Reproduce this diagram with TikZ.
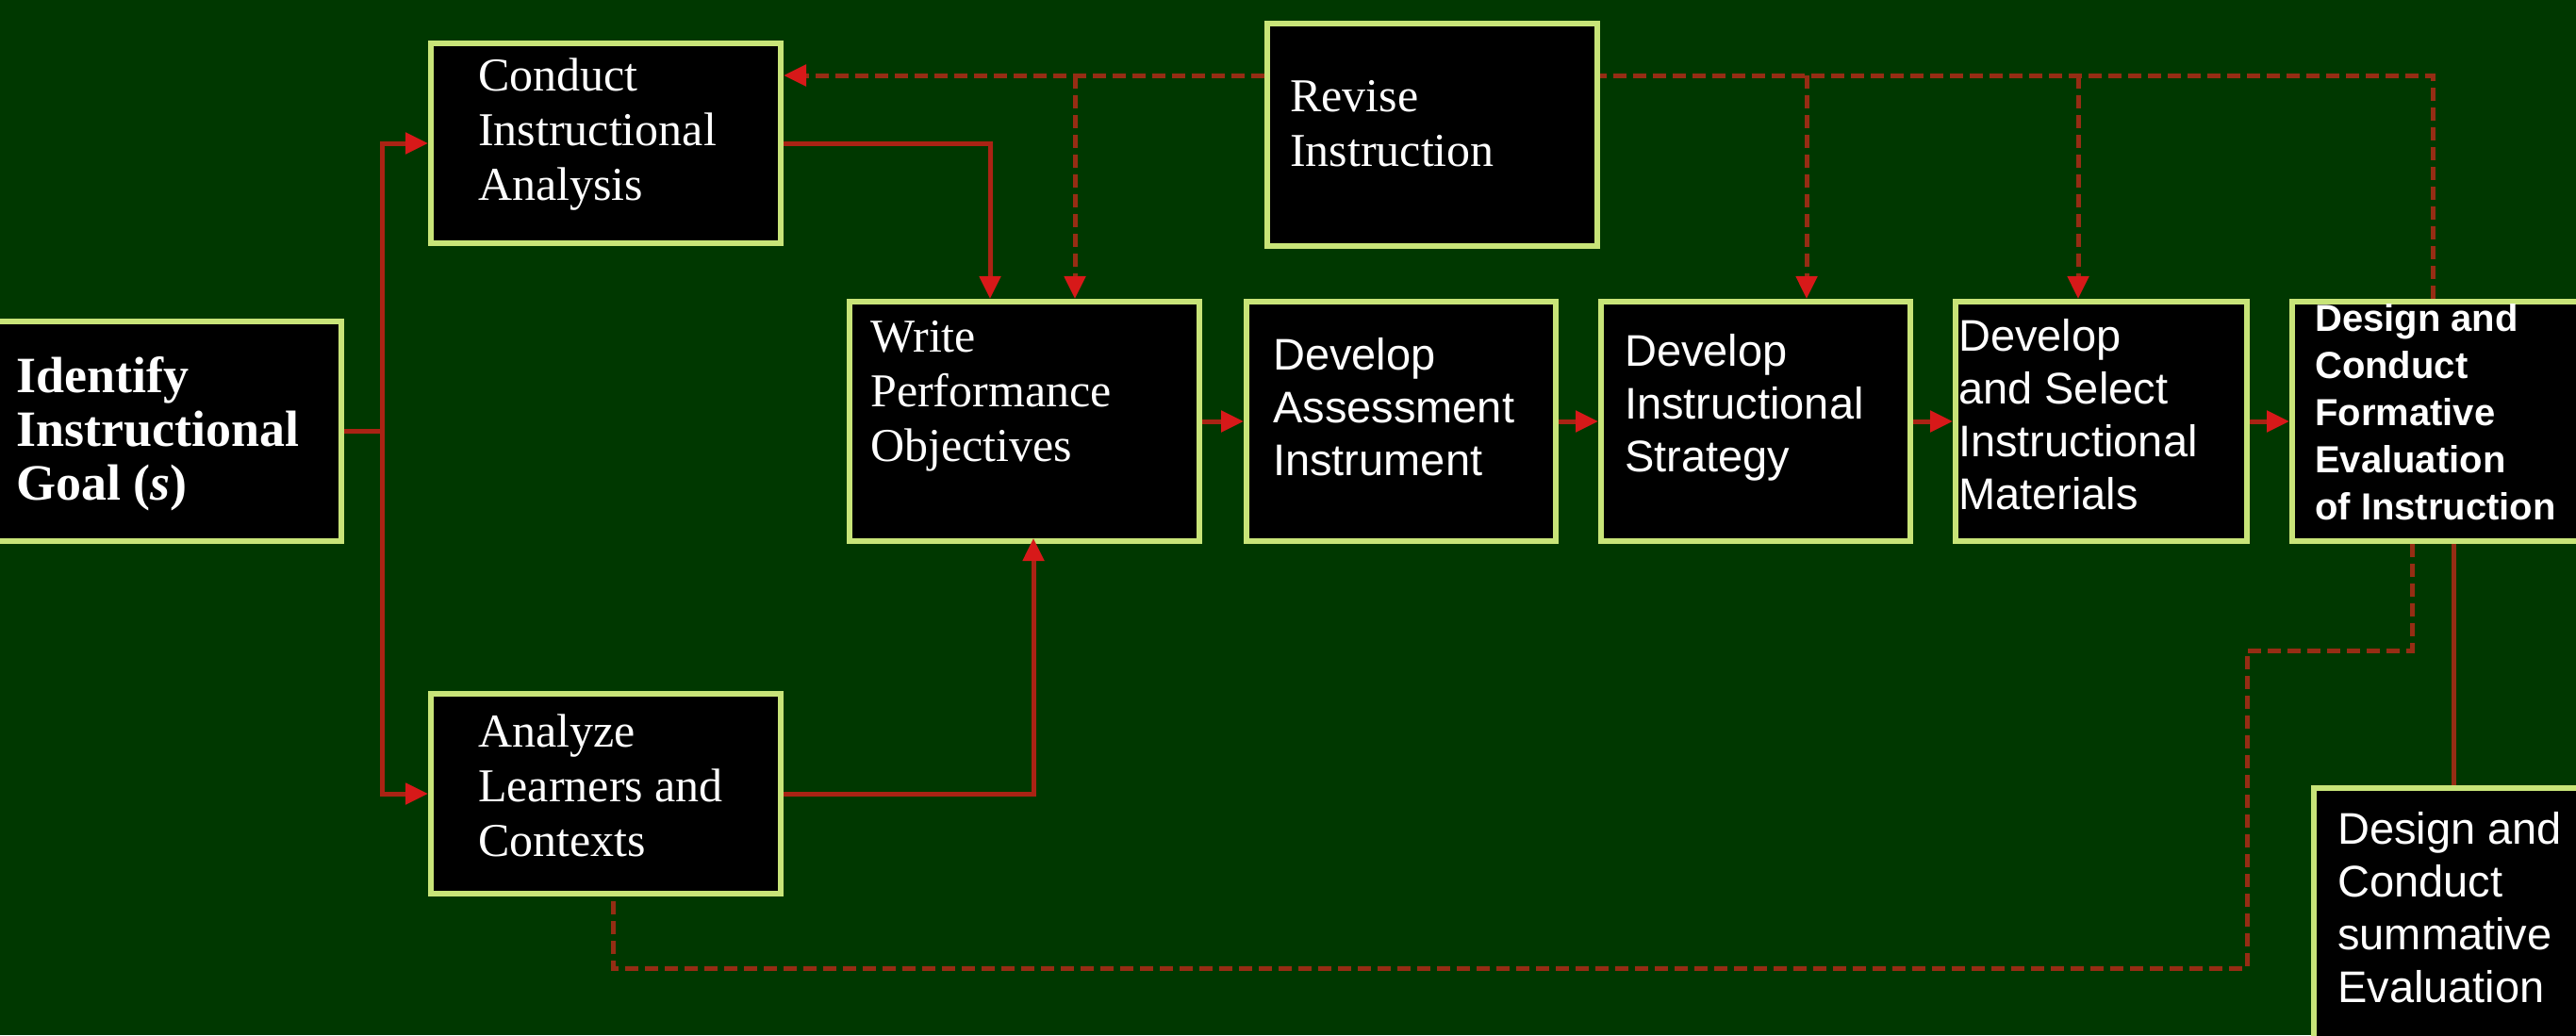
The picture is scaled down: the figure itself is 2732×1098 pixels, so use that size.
\documentclass[tikz,border=0pt]{standalone}
\usepackage{fontspec}
\setmainfont{Liberation Serif}
\setsansfont{Liberation Sans}
\usetikzlibrary{arrows.meta}
\definecolor{bg}{RGB}{0,56,0}
\definecolor{edge}{RGB}{200,228,120}
\definecolor{wire}{RGB}{170,35,20}
\definecolor{dwire}{RGB}{150,45,20}
\definecolor{tip}{RGB}{215,25,25}
\begin{document}
\begin{tikzpicture}[x=1pt,y=-1pt,
  box/.style={draw=edge, line width=6pt, fill=black, rectangle, inner sep=0pt, anchor=north west},
  serif/.style={text=white, font=\fontsize{50}{58}\selectfont, align=left, anchor=west, inner sep=0pt},
  sans/.style={text=white, font=\sffamily\fontsize{47}{56}\selectfont, align=left, anchor=west, inner sep=0pt},
  link/.style={draw=wire, line width=5pt},
  dlink/.style={draw=dwire, line width=5pt, dash pattern=on 14pt off 7pt},
  arr/.style={-{Triangle[length=24pt,width=22pt,color=tip]}},
]
\fill[bg] (0,0) rectangle (2732,1098);
\useasboundingbox (0,0) rectangle (2732,1098);
\clip (0,0) rectangle (2732,1098);

% boxes
\node[box, minimum width=397pt, minimum height=233pt] (identify) at (-38,338) {};
\node[box, minimum width=371pt, minimum height=212pt] (conduct) at (454,43) {};
\node[box, minimum width=371pt, minimum height=212pt] (analyze) at (454,733) {};
\node[box, minimum width=350pt, minimum height=236pt] (revise) at (1341,22) {};
\node[box, minimum width=371pt, minimum height=254pt] (write) at (898,317) {};
\node[box, minimum width=328pt, minimum height=254pt] (assess) at (1319,317) {};
\node[box, minimum width=328pt, minimum height=254pt] (strategy) at (1695,317) {};
\node[box, minimum width=309pt, minimum height=254pt] (materials) at (2071,317) {};
\node[box, minimum width=400pt, minimum height=254pt] (formative) at (2428,317) {};
\node[box, minimum width=400pt, minimum height=400pt] (summative) at (2451,833) {};

% texts
\node[serif, font=\bfseries\fontsize{54}{57}\selectfont] (identifyT) at (17,460) {Identify\\Instructional\\Goal (\textit{s})};
\node[serif] (conductT) at (507,143) {Conduct\\Instructional\\Analysis};
\node[serif] (analyzeT) at (507,833) {Analyze\\Learners and\\Contexts};
\node[serif] (reviseT) at (1368,131) {Revise\\Instruction};
\node[serif] (writeT) at (923,420) {Write\\Performance\\Objectives};
\node[sans] (assessT) at (1350,432) {Develop\\Assessment\\Instrument};
\node[sans] (strategyT) at (1723,432) {Develop\\Instructional\\Strategy};
\node[sans] (materialsT) at (2077,440) {Develop\\and Select\\Instructional\\Materials};
\node[sans, font=\sffamily\bfseries\fontsize{40}{50}\selectfont] (formativeT) at (2455,437) {Design and\\Conduct\\Formative\\Evaluation\\of Instruction};
\node[sans] (summativeT) at (2479,963) {Design and\\Conduct\\summative\\Evaluation};

% helper coordinates
\coordinate (xsplit) at (405,0);
\coordinate (cw) at (1050,317);
\coordinate (aw) at (1096,571);
\coordinate (ty) at (0,80);
\coordinate (xw) at (1140,0);
\coordinate (xs) at (1916,0);
\coordinate (xm) at (2204,0);
\coordinate (xf) at (2580,0);
\coordinate (xsum) at (2602,0);
\coordinate (xb) at (2558,0);
\coordinate (cb) at (2383,690);
\coordinate (ab) at (650,1027);

% solid connectors
\draw[link] (identify.east) -- (xsplit |- identify.east);
\draw[link, arr] (xsplit |- identify.east) |- (conduct.west);
\draw[link, arr] (xsplit |- identify.east) |- (analyze.west);
\draw[link, arr] (conduct.east) -| (cw);
\draw[link, arr] (analyze.east) -| (aw);
\draw[link, arr] (write.east) -- (assess.west);
\draw[link, arr] (assess.east) -- (strategy.west);
\draw[link, arr] (strategy.east) -- (materials.west);
\draw[link, arr] (materials.east) -- (formative.west);
\draw[link, draw=dwire] (xsum |- formative.south) -- (xsum |- summative.north);

% dashed revision loop
\draw[dlink] (xf |- formative.north) -- (xf |- ty) -- (revise.east |- ty);
\draw[dlink, arr] (revise.west |- ty) -- (conduct.east |- ty);
\draw[dlink, arr] (xw |- ty) -- (xw |- write.north);
\draw[dlink, arr] (xs |- ty) -- (xs |- strategy.north);
\draw[dlink, arr] (xm |- ty) -- (xm |- materials.north);

% dashed summative loop
\draw[dlink] (xb |- formative.south) |- (cb) |- (ab) -- (ab |- analyze.south);
\end{tikzpicture}
\end{document}
